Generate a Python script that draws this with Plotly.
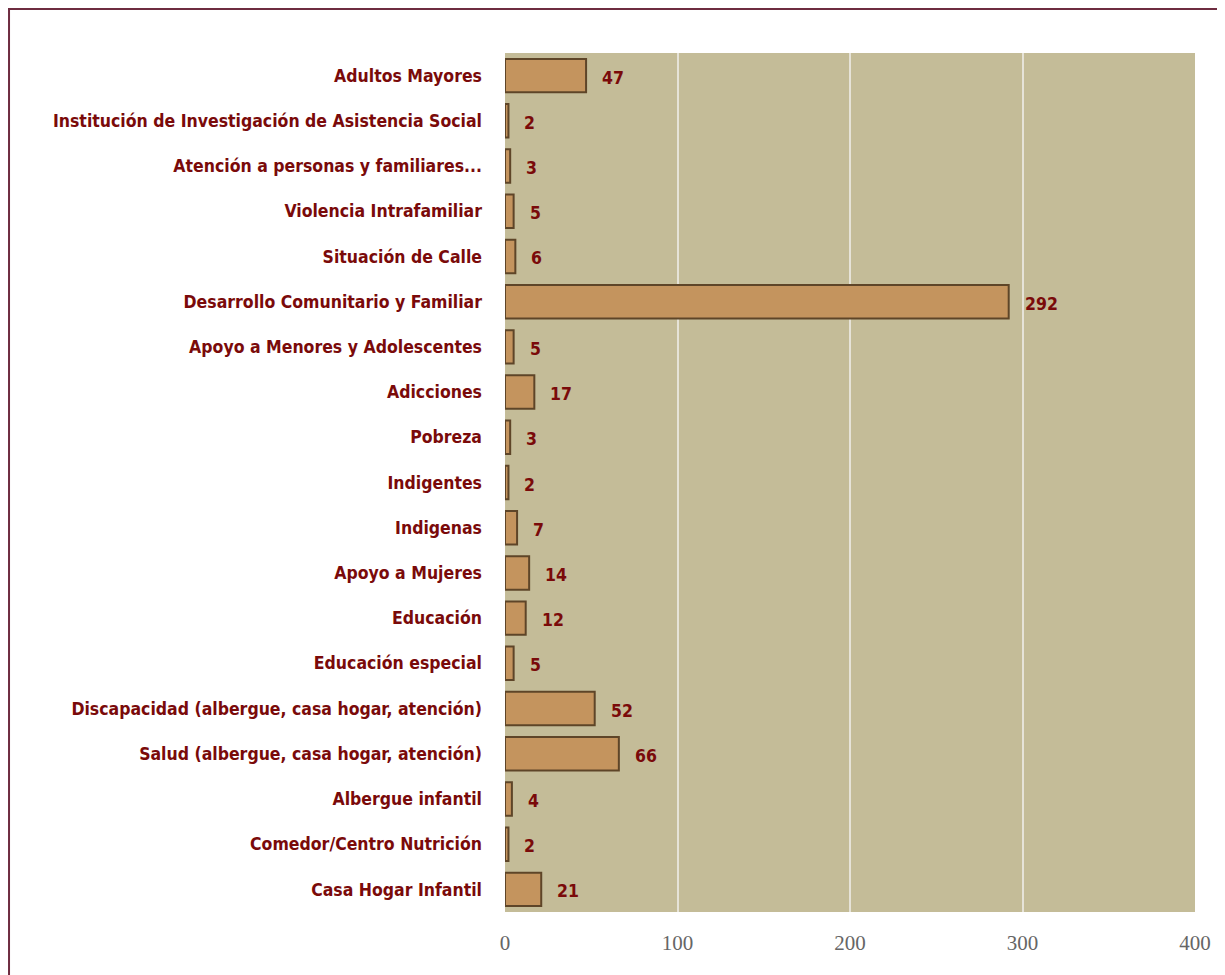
import plotly.graph_objects as go

categories = [
    "Adultos Mayores",
    "Institución de Investigación de Asistencia Social",
    "Atención a personas y familiares...",
    "Violencia Intrafamiliar",
    "Situación de Calle",
    "Desarrollo Comunitario y Familiar",
    "Apoyo a Menores y Adolescentes",
    "Adicciones",
    "Pobreza",
    "Indigentes",
    "Indigenas",
    "Apoyo a Mujeres",
    "Educación",
    "Educación especial",
    "Discapacidad (albergue, casa hogar, atención)",
    "Salud (albergue, casa hogar, atención)",
    "Albergue infantil",
    "Comedor/Centro Nutrición",
    "Casa Hogar Infantil",
]
values = [47, 2, 3, 5, 6, 292, 5, 17, 3, 2, 7, 14, 12, 5, 52, 66, 4, 2, 21]
x_ticks = [0, 100, 200, 300, 400]

label_color = "#7A0A0A"
label_font = dict(family="DejaVu Sans Condensed", size=17.5, color=label_color, weight="bold")

fig = go.Figure()
fig.add_trace(go.Bar(
    x=values,
    y=categories,
    orientation="h",
    marker=dict(color="#C4945E", line=dict(color="#5E4528", width=2)),
    hoverinfo="x+y",
))

for c, v in zip(categories, values):
    fig.add_annotation(
        x=v, y=c, text=str(v), showarrow=False, xanchor="left", xshift=14, yshift=-2,
        font=dict(label_font, size=17.5),
    )

fig.add_shape(
    type="rect", xref="paper", yref="paper",
    x0=-0.7188, x1=1.1, y0=-0.2, y1=1.0512,
    line=dict(color="#6E2C40", width=2), layer="below",
)

fig.update_layout(
    width=1217, height=967,
    margin=dict(l=497, r=30, t=45, b=63),
    paper_bgcolor="white",
    plot_bgcolor="#C4BC98",
    bargap=0.26,
    showlegend=False,
    xaxis=dict(
        range=[0, 400], tickvals=x_ticks, showgrid=True, gridcolor="#E6E3D8", gridwidth=1.5,
        zeroline=False, showline=False,
        tickfont=dict(family="Liberation Serif", size=21, color="#666666"),
        ticklabelstandoff=16,
    ),
    yaxis=dict(
        autorange="reversed", showgrid=False, zeroline=False, showline=False,
        tickfont=label_font,
        ticklabelstandoff=22,
    ),
)

fig.write_html("out.html")
